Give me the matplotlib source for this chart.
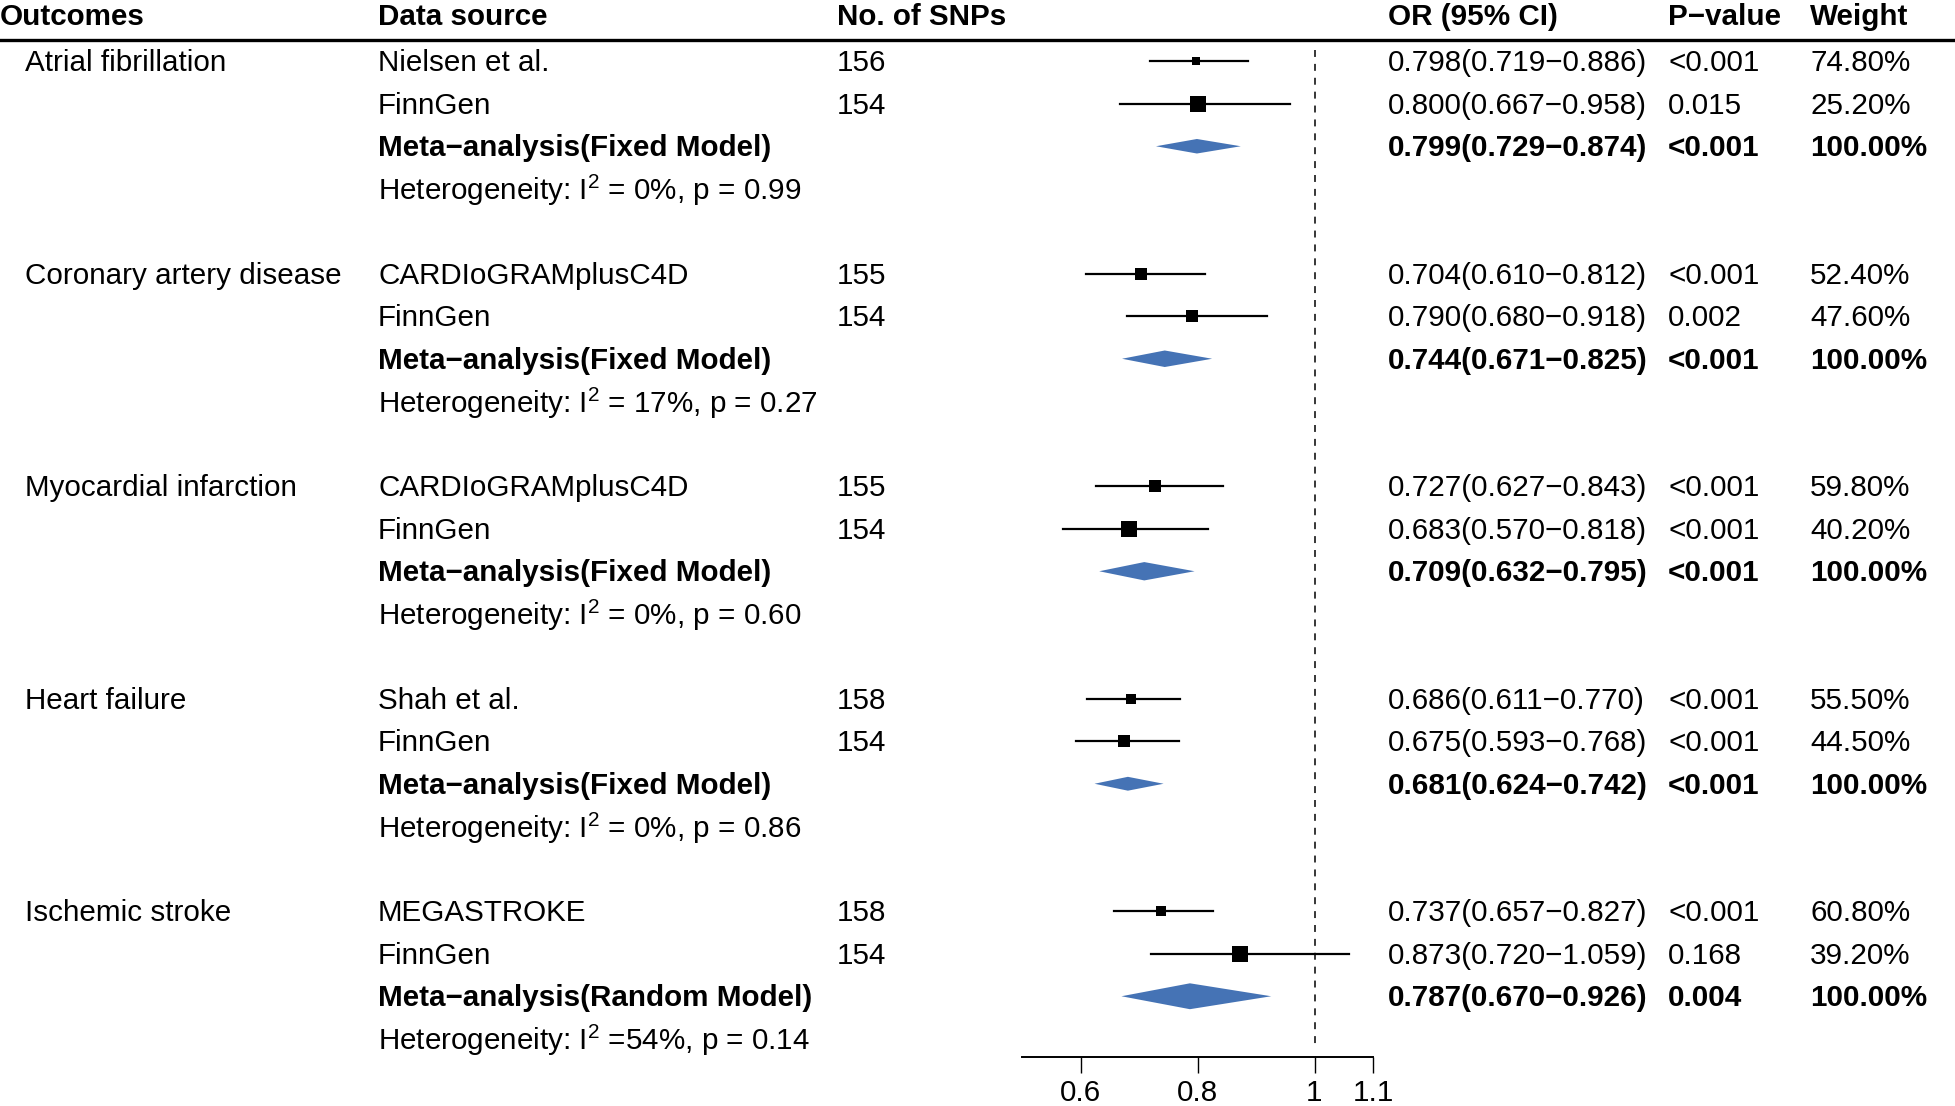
import numpy as np
import matplotlib
matplotlib.use("Agg")
import matplotlib.pyplot as plt
from matplotlib.lines import Line2D
from matplotlib.patches import Polygon
from matplotlib.transforms import blended_transform_factory

# data
outcomes = ["Atrial fibrillation", "Coronary artery disease", "Myocardial infarction",
            "Heart failure", "Ischemic stroke"]
sources = [["Nielsen et al.", "FinnGen"], ["CARDIoGRAMplusC4D", "FinnGen"],
           ["CARDIoGRAMplusC4D", "FinnGen"], ["Shah et al.", "FinnGen"],
           ["MEGASTROKE", "FinnGen"]]
snps = [[156, 154], [155, 154], [155, 154], [158, 154], [158, 154]]
or_est = [[0.798, 0.800], [0.704, 0.790], [0.727, 0.683], [0.686, 0.675], [0.737, 0.873]]
or_lo = [[0.719, 0.667], [0.610, 0.680], [0.627, 0.570], [0.611, 0.593], [0.657, 0.720]]
or_hi = [[0.886, 0.958], [0.812, 0.918], [0.843, 0.818], [0.770, 0.768], [0.827, 1.059]]
p_vals = [["<0.001", "0.015"], ["<0.001", "0.002"], ["<0.001", "<0.001"],
          ["<0.001", "<0.001"], ["<0.001", "0.168"]]
weights = [["74.80%", "25.20%"], ["52.40%", "47.60%"], ["59.80%", "40.20%"],
           ["55.50%", "44.50%"], ["60.80%", "39.20%"]]
meta_model = ["Fixed", "Fixed", "Fixed", "Fixed", "Random"]
meta_est = [0.799, 0.744, 0.709, 0.681, 0.787]
meta_lo = [0.729, 0.671, 0.632, 0.624, 0.670]
meta_hi = [0.874, 0.825, 0.795, 0.742, 0.926]
meta_p = ["<0.001", "<0.001", "<0.001", "<0.001", "0.004"]
het_i2 = [" = 0%", " = 17%", " = 0%", " = 0%", " =54%"]
het_p = ["0.99", "0.27", "0.60", "0.86", "0.14"]

headers = ["Outcomes", "Data source", "No. of SNPs", "OR (95% CI)", "P\u2212value", "Weight"]
xticks = [0.6, 0.8, 1, 1.1]

plt.rcParams['font.family'] = ['Liberation Sans', 'DejaVu Sans']
plt.rcParams['mathtext.fontset'] = 'custom'
plt.rcParams['mathtext.rm'] = 'Liberation Sans'
plt.rcParams['lines.scale_dashes'] = False

W, H = 1955, 1106
fs = 21.3
fig = plt.figure(figsize=(W / 100, H / 100), dpi=100)

row0, rowh = 61.25, 42.5       # pixel centre of first row, row height
axis_px, top_px = 1057, 40
ax_left, ax_right = 1022, 1373
ylo = (axis_px - row0) / rowh
yhi = (top_px - row0) / rowh
ax = fig.add_axes([ax_left / W, 1 - axis_px / H, (ax_right - ax_left) / W, (axis_px - top_px) / H])
ax.set_xlim(0.5, 1.1)
ax.set_ylim(ylo, yhi)
for s in ['top', 'left', 'right']:
    ax.spines[s].set_visible(False)
ax.spines['bottom'].set_linewidth(1.4)
ax.set_yticks([])
ax.set_xticks(xticks)
ax.set_xticklabels([f"{t:g}" for t in xticks])
ax.tick_params(axis='x', length=11.5, width=1.0, pad=4, labelsize=fs)
ax.patch.set_alpha(0)

tr = blended_transform_factory(fig.transFigure, ax.transData)
col_x = [25, 378, 837, 1388, 1668, 1810]
dy = 2.0 / rowh    # small downward nudge of text

def put(col, row, s, bold=False):
    ax.text(col_x[col] / W, row + dy, s, transform=tr, fontsize=fs, va='center', ha='left',
            fontweight='bold' if bold else 'normal', clip_on=False)

# header
hx = [0, 378, 837, 1388, 1668, 1810]
for i, h in enumerate(headers):
    fig.text(hx[i] / W, 1 - 17 / H, h, fontsize=fs, fontweight='bold', va='center', ha='left')
fig.add_artist(Line2D([0, 1], [1 - top_px / H] * 2, color='black', lw=2.4,
                      transform=fig.transFigure))

# reference line
ax.plot([1, 1], [(50 - row0) / rowh, (1045 - row0) / rowh], color='black', lw=1.1,
        dashes=(5, 5), zorder=1)

for g in range(len(outcomes)):
    base = g * 5
    put(0, base, outcomes[g])
    for j in range(2):
        r = base + j
        put(1, r, sources[g][j])
        put(2, r, str(snps[g][j]))
        put(3, r, f"{or_est[g][j]:.3f}({or_lo[g][j]:.3f}\u2212{or_hi[g][j]:.3f})")
        put(4, r, p_vals[g][j])
        put(5, r, weights[g][j])
        ax.plot([or_lo[g][j], or_hi[g][j]], [r, r], color='black', lw=1.6, zorder=2)
        side = 43 * np.log(or_hi[g][j] / or_lo[g][j]) * 0.72
        ax.plot(or_est[g][j], r, marker='s', ms=side, color='black', mew=0, zorder=3)
    r = base + 2
    put(1, r, f"Meta\u2212analysis({meta_model[g]} Model)", bold=True)
    put(3, r, f"{meta_est[g]:.3f}({meta_lo[g]:.3f}\u2212{meta_hi[g]:.3f})", bold=True)
    put(4, r, meta_p[g], bold=True)
    put(5, r, "100.00%", bold=True)
    hh = 40 * np.log(meta_hi[g] / meta_lo[g]) / rowh
    ax.add_patch(Polygon([[meta_lo[g], r], [meta_est[g], r - hh], [meta_hi[g], r],
                          [meta_est[g], r + hh]], closed=True, facecolor='#4573B5',
                         edgecolor='none', zorder=3))
    put(1, base + 3, r"Heterogeneity: $\mathregular{I^2}$" + het_i2[g] + ", p = " + het_p[g])

fig.savefig("out.png", dpi=100)
